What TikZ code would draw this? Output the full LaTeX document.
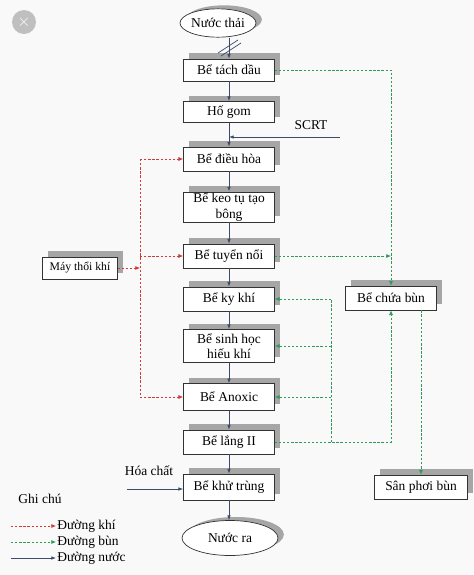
\documentclass[tikz,border=0pt]{standalone}
\usepackage{fontspec}
\setmainfont{Liberation Serif}
\usetikzlibrary{arrows.meta,shapes.geometric,shadows}
\definecolor{khi}{HTML}{D03A3A}
\definecolor{bun}{HTML}{2F9A5A}
\definecolor{nuoc}{HTML}{3C4B6A}
\begin{document}
\begin{tikzpicture}[x=0.03cm,y=-0.03cm,font=\fontsize{11.5}{13}\selectfont]
    \tikzset{
        be/.style={draw=black!80, fill=white, line width=0.6pt, minimum width=2.73cm, minimum height=0.72cm, align=center, inner sep=1pt,
            general shadow={fill=gray!70, shadow xshift=4.5pt, shadow yshift=5pt}},
        dau/.style={draw=black!80, fill=white, line width=0.6pt, ellipse, inner sep=0pt,
            general shadow={fill=gray!70, shadow xshift=5pt, shadow yshift=3pt}},
        nuocarc/.style={draw=nuoc, line width=0.6pt, -{Latex[length=4pt,width=3pt]}},
        khiline/.style={draw=khi, line width=0.6pt, dash pattern=on 2pt off 1.5pt},
        khiarc/.style={khiline, -{Latex[length=4pt,width=3.5pt]}},
        bunline/.style={draw=bun, line width=0.6pt, dash pattern=on 2pt off 1.5pt},
        bunarc/.style={bunline, -{Latex[length=4pt,width=3.5pt]}}
    }
    \fill[gray!5] (0,0) rectangle (474,575);
    \useasboundingbox (0,0) rectangle (474,575);

    \draw node[circle, fill=gray!50, minimum size=0.72cm, inner sep=0pt, text=white, font=\Large] (dong) at (24,22) {$\times$};

    \draw node[dau, minimum width=2.15cm, minimum height=0.85cm] (thai) at (218,23) {Nước thải};
    \draw node[be, minimum height=0.66cm] (tach) at (229,70) {Bể tách dầu};
    \draw node[be, minimum height=0.63cm] (gom) at (229,112) {Hố gom};
    \draw node[be] (dh) at (229,159) {Bể điều hòa};
    \draw node[be, minimum height=0.9cm] (keo) at (229,207) {Bể keo tụ tạo\\bông};
    \draw node[be] (tuyen) at (229,256) {Bể tuyển nổi};
    \draw node[be] (ky) at (229,299) {Bể ky khí};
    \draw node[be, minimum height=0.99cm] (sh) at (229,346) {Bể sinh học\\hiếu khí};
    \draw node[be, minimum height=0.8cm] (anox) at (229,397) {Bể Anoxic};
    \draw node[be] (lang) at (229,442) {Bể lắng II};
    \draw node[be, minimum height=0.78cm] (khu) at (229,487) {Bể khử trùng};
    \draw node[dau, minimum width=2.88cm, minimum height=1.05cm] (ra) at (230,538) {Nước ra};
    \draw node[be, minimum width=2.25cm, minimum height=0.66cm, font=\fontsize{10}{12}\selectfont] (may) at (80,268) {Máy thổi khí};
    \draw node[be] (chua) at (391,298) {Bể chứa bùn};
    \draw node[be, minimum width=2.79cm] (san) at (421,487) {Sân phơi bùn};

    % duong nuoc
    \draw[nuocarc] (thai.south -| tach.north) -- (tach.north);
    \draw[nuoc, line width=0.6pt] (218,53) -- (238,40);
    \draw[nuoc, line width=0.6pt] (221,56) -- (241,43);
    \foreach \x/\y in {%
        tach/gom, gom/dh, dh/keo, keo/tuyen, tuyen/ky, ky/sh, sh/anox, anox/lang, lang/khu, khu/ra%
    }{
    \draw[nuocarc] (\x.south) -- (\x.south |- \y.north);
    }
    \draw node (scrtlbl) at (311,125) {SCRT};
    \coordinate (scrt) at (340,137);
    \draw[nuocarc] (scrt) -- (scrt -| gom.south);
    \draw node (hclbl) at (149,471) {Hóa chất};
    \coordinate (hc) at (127,489);
    \draw[nuocarc] (hc) -- (hc -| khu.west);

    % duong bun
    \draw[bunarc] (tach.east) -| (chua.north);
    \draw[bunarc] (tuyen.east) -- (tuyen.east -| chua.north);
    \draw[bunarc] (lang.east) -| (chua.south);
    \coordinate (tra) at (331,442);
    \draw[bunline] (tra) -- (tra |- ky.east);
    \foreach \b in {ky, sh, anox}{
    \draw[bunarc] (tra |- \b.east) -- (\b.east);
    }
    \draw[bunarc] (chua.south -| san.north) -- (san.north);

    % duong khi
    \coordinate (kh) at (140,268);
    \draw[khiarc] (may.east) -- (kh);
    \draw[khiline] (kh |- dh.west) -- (kh |- anox.west);
    \foreach \b in {dh, tuyen, anox}{
    \draw[khiarc] (kh |- \b.west) -- (\b.west);
    }

    % ghi chu
    \draw node (ghichu) at (40,499) {Ghi chú};
    \foreach \s/\t/\yy in {khiarc/Đường khí/526, bunarc/Đường bùn/542, nuocarc/Đường nước/558}{
    \draw node[anchor=west, inner sep=1pt] (l\yy) at (56,\yy) {\t};
    \coordinate (s\yy) at (11,\yy);
    \draw[\s] (s\yy) -- (l\yy.west);
    }
\end{tikzpicture}
\end{document}
